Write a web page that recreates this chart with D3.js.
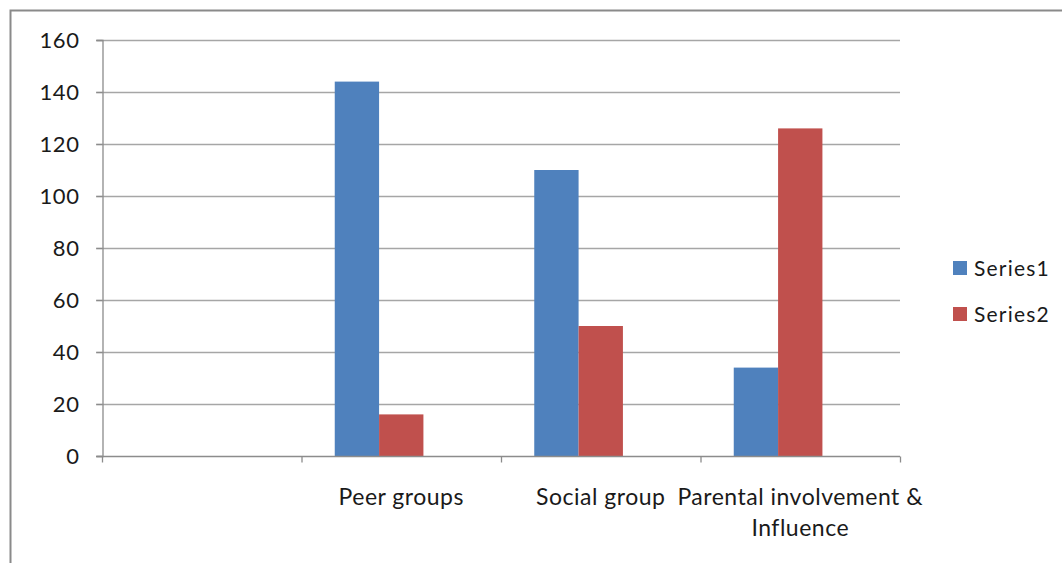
<!DOCTYPE html>
<html>
<head>
<meta charset="utf-8">
<script src="https://cdn.jsdelivr.net/npm/d3@7"></script>
<style>
html,body{margin:0;padding:0;background:#fff;}
svg{display:block;}
text{font-family:"Lato","Open Sans",sans-serif;fill:#1a1a1a;}
</style>
</head>
<body>
<svg id="chart" width="1062" height="563"></svg>
<script>
const categories = ["", "Peer groups", "Social group", "Parental involvement & Influence"];
const categoryLines = [[""], ["Peer groups"], ["Social group"], ["Parental involvement &", "Influence"]];
const seriesNames = ["Series1", "Series2"];
const series1 = [null, 144, 110, 34];
const series2 = [null, 16, 50, 126];
const series3 = [null, null, null, null]; // empty third series (reserves a slot in each group)
const yTicks = [0, 20, 40, 60, 80, 100, 120, 140, 160];
const colors = ["#4F81BD", "#C0504D", "#9BBB59"];

(function () {
const svg = d3.select("#chart");
const pLeft = 102, pRight = 900, pTop = 40, pBottom = 456;

// outer border
svg.append("rect").attr("x", 10.5).attr("y", 10.5).attr("width", 1100).attr("height", 600)
  .attr("fill", "#fff").attr("stroke", "#8a8a8a").attr("stroke-width", 2);

const x = d3.scaleBand().domain(categories).range([pLeft, pRight]).paddingInner(0).paddingOuter(0);
const slots = ["Series1", "Series2", "Series3"];
const inner = d3.scaleBand().domain(slots).range([0, x.bandwidth()]).paddingInner(0).paddingOuter(0.75);
const y = d3.scaleLinear().domain([0, 160]).range([pBottom, pTop]);

// gridlines
svg.append("g").selectAll("line").data(yTicks.filter(d => d > 0)).join("line")
  .attr("x1", pLeft - 6).attr("x2", pRight).attr("y1", d => Math.round(y(d)) + 0.5).attr("y2", d => Math.round(y(d)) + 0.5)
  .attr("stroke", "#a6a6a6").attr("stroke-width", 1.3);

// y axis
const yAxis = svg.append("g").attr("transform", `translate(${pLeft + 0.5},0)`)
  .call(d3.axisLeft(y).tickValues(yTicks).tickSize(6).tickPadding(17));
yAxis.select(".domain").attr("stroke", "#8c8c8c").attr("stroke-width", 1.3);
yAxis.selectAll(".tick line").attr("stroke", "#8c8c8c").attr("stroke-width", 1.3);
yAxis.selectAll(".tick text").style("font-family", "Lato").style("font-size", "22px")
  .style("letter-spacing", "0.6px").attr("fill", "#1a1a1a");

// bars
const data = categories.map((c, i) => ({c, vals: [series1[i], series2[i], series3[i]]}));
const groups = svg.append("g").selectAll("g").data(data).join("g")
  .attr("transform", d => `translate(${x(d.c)},0)`);
groups.selectAll("rect").data(d => d.vals.map((v, k) => ({v, k})).filter(e => e.v != null)).join("rect")
  .attr("x", e => inner(slots[e.k]))
  .attr("width", inner.bandwidth())
  .attr("y", e => y(e.v))
  .attr("height", e => y(0) - y(e.v))
  .attr("fill", e => colors[e.k]);

// x axis
const xAxisG = svg.append("g").attr("transform", `translate(0,${Math.round(pBottom) + 0.5})`);
xAxisG.append("line").attr("x1", pLeft - 6).attr("x2", pRight).attr("stroke", "#8c8c8c").attr("stroke-width", 1.3);
const bounds = categories.map(c => x(c)).concat([pRight]);
xAxisG.selectAll("line.tk").data(bounds).join("line").attr("class", "tk")
  .attr("x1", d => d + 0.5).attr("x2", d => d + 0.5).attr("y1", 0).attr("y2", 6)
  .attr("stroke", "#8c8c8c").attr("stroke-width", 1.3);

// category labels
const labels = svg.append("g").selectAll("text").data(categories.map((c, i) => ({c, lines: categoryLines[i]}))).join("text")
  .attr("x", d => x(d.c) + x.bandwidth() / 2)
  .attr("y", 505)
  .attr("text-anchor", "middle")
  .style("font-size", "23px")
  .style("letter-spacing", "0.5px");
labels.selectAll("tspan").data(d => d.lines.map(l => ({l, x: x(d.c) + x.bandwidth() / 2}))).join("tspan")
  .attr("x", e => e.x).attr("dy", (e, i) => i === 0 ? 0 : 31).text(e => e.l);

// legend
const legend = svg.append("g").selectAll("g").data(seriesNames).join("g")
  .attr("transform", (d, i) => `translate(953,${261 + i * 46})`);
legend.append("rect").attr("width", 14).attr("height", 14).attr("fill", (d, i) => colors[i]);
legend.append("text").attr("x", 21).attr("y", 15).style("font-size", "21px")
  .style("letter-spacing", "1.2px").text(d => d);
})();
</script>
</body>
</html>
